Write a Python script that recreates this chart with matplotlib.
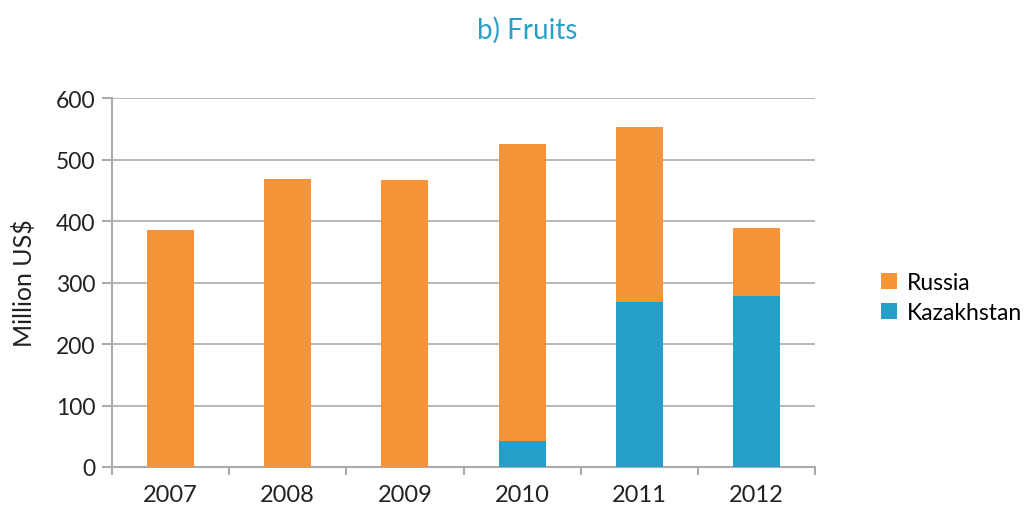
import matplotlib
matplotlib.use('Agg')
import matplotlib.pyplot as plt
import numpy as np

# Data
years = ['2007', '2008', '2009', '2010', '2011', '2012']
kazakhstan = [0, 0, 0, 42, 268, 278]
russia = [385, 469, 467, 483, 285, 111]

plt.rcParams['font.family'] = ['Lato', 'DejaVu Sans']

orange = '#F7943A'
blue = '#259FC7'
grey = '#ABABAB'

fig = plt.figure(figsize=(10.3, 5.06), dpi=100)
ax = fig.add_axes([0.1087, 0.0751, 0.6826, 0.7292])

x = np.arange(len(years))
ax.bar(x, kazakhstan, width=0.4, color=blue, label='Kazakhstan', zorder=3)
ax.bar(x, russia, width=0.4, bottom=kazakhstan, color=orange, label='Russia', zorder=3)

ax.set_xlim(-0.5, len(years) - 0.5)
ax.set_ylim(0, 600)
ax.set_yticks(range(0, 601, 100))
ax.yaxis.grid(True, color=grey, linewidth=1.2, zorder=0)

# category ticks sit on the boundaries
ax.set_xticks(x)
ax.set_xticklabels(years)
ax.tick_params(axis='x', which='major', length=0, pad=12, labelsize=17, colors='#222222')
ax.set_xticks(np.arange(-0.5, len(years)), minor=True)
ax.tick_params(axis='x', which='minor', length=6, width=1.5, color=grey, direction='out')
ax.tick_params(axis='y', length=7, width=1.5, color=grey, labelsize=16.5, labelcolor='#222222', pad=5)

for s in ['top', 'right']:
    ax.spines[s].set_visible(False)
for s in ['left', 'bottom']:
    ax.spines[s].set_color(grey)
    ax.spines[s].set_linewidth(1.5)

ax.set_ylabel('Million US$', fontsize=18, color='#222222', labelpad=14)
fig.text(0.512, 0.94, 'b) Fruits', ha='center', va='center', fontsize=20, color='#2AA0C8')

handles, labels = ax.get_legend_handles_labels()
fig.legend(handles[::-1], labels[::-1], loc='center left', bbox_to_anchor=(0.855, 0.41),
           frameon=False, fontsize=16.5, handlelength=0.7, handleheight=0.7,
           handletextpad=0.45, labelspacing=0.4, borderaxespad=0, borderpad=0)

fig.savefig('out.png', dpi=100)
